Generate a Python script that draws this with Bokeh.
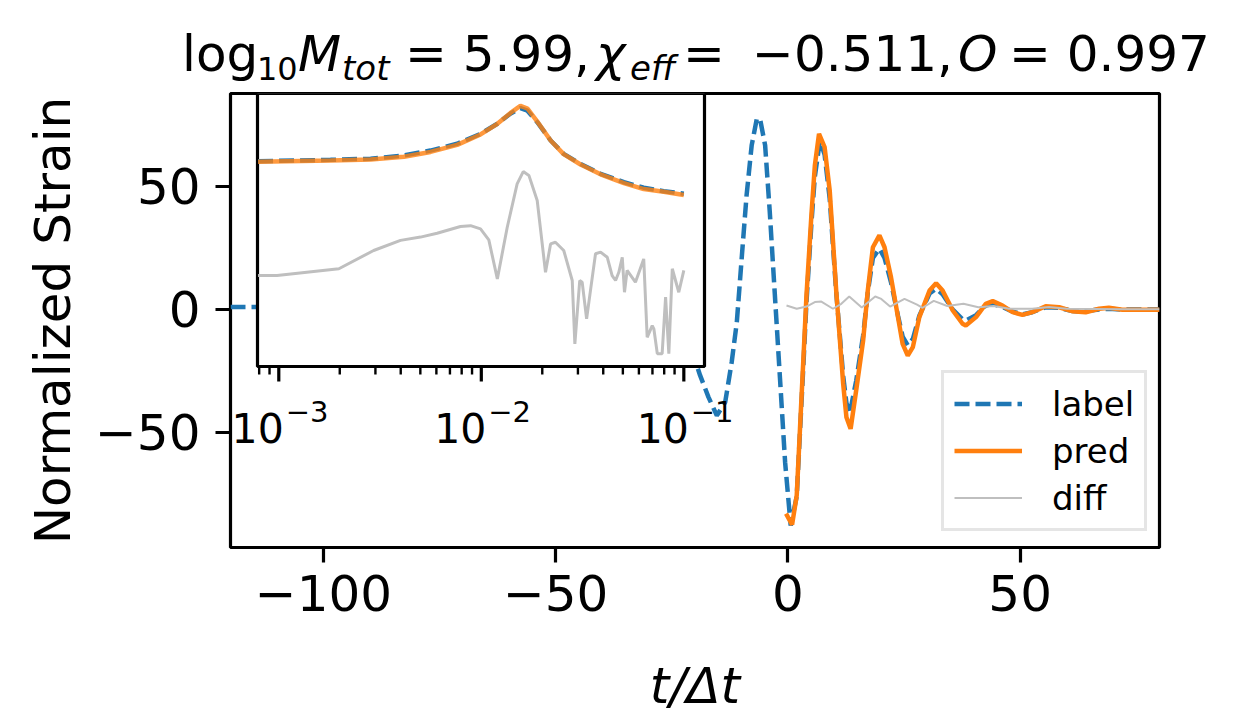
import numpy as np
from bokeh.plotting import figure
from bokeh.layouts import column
from bokeh.models import (Range1d, LogScale, FixedTicker, Legend, LegendItem,
                          CustomJSTickFormatter, Div)
from bokeh.core.properties import value
from bokeh.embed import file_html
from bokeh.resources import INLINE

# ---------------- data: main panel ----------------
label_t = [-120, -113, -70, -40, -26, -21.5, -18.9, -17.1, -15.3, -13.5, -12.1, -11.0,
           -9.9, -8.9, -7.8, -6.7, -6.0, -4.9, -3.9, -2.8, -1.7, -0.6, 0.6, 1.9,
           2.6, 3.3, 4.0, 5.1, 5.8, 6.9, 7.9, 9.0, 9.7, 10.4, 11.2, 11.9,
           12.6, 13.3, 14.7, 16.2, 17.2, 18.3, 19.7, 20.8, 22.2, 23.7, 24.7, 25.8,
           26.9, 28.3, 30.5, 31.9, 33.3, 35.5, 37.6, 38.3, 40.5, 42.6, 44.1, 46.2,
           48.4, 50.5, 52.6, 55.5, 58.4, 61.2, 63.4, 66.0, 69.1, 72.0, 76.0, 80.0]
label_h = [1.0, 1.0, 2.0, 4.0, 9.0, -12.0, -26.8, -35.6, -43.1, -37.7, -21.4, -5.2,
           22.0, 46.3, 66.7, 77.5, 77.5, 66.7, 39.6, 5.7, -28.1, -62.1, -87.8, -76.0,
           -50.0, -24.0, 3.0, 36.0, 54.0, 68.7, 63.0, 45.0, 26.0, 7.0, -11.0, -27.0,
           -38.0, -42.4, -29.0, -10.5, 7.0, 21.0, 24.7, 21.0, 11.0, -2.5, -11.0, -14.6,
           -12.0, -2.5, 6.5, 8.4, 6.2, 0.0, -4.0, -4.5, -2.3, 1.6, 2.3, 1.0,
           -0.9, -2.0, -1.1, 0.9, 0.7, -0.6, -1.0, -0.2, 0.3, 0.0, 0.0, 0.0]

pred_t = [-0.4, 0.9, 1.9, 2.6, 3.3, 4.0, 5.1, 5.8, 6.7, 7.9, 9.0, 9.7,
          10.4, 11.2, 11.9, 12.6, 13.5, 14.7, 16.2, 17.2, 18.3, 19.7, 20.8, 22.2,
          23.7, 24.7, 25.8, 26.9, 28.3, 30.5, 31.9, 33.3, 35.5, 37.6, 38.3, 40.5,
          42.6, 44.1, 46.2, 48.4, 50.5, 52.6, 55.5, 58.4, 61.2, 64.1, 67.0, 69.1,
          72.0, 75.5, 80.0]
pred_h = [-83.0, -87.5, -75.6, -48.5, -21.4, 5.7, 39.6, 58.5, 71.4, 66.0, 48.4, 28.0,
          7.7, -12.6, -30.2, -43.8, -48.5, -32.9, -12.6, 7.7, 25.3, 30.1, 25.3, 13.1,
          -3.1, -14.0, -18.7, -15.3, -3.1, 7.7, 10.7, 7.7, -0.4, -5.8, -6.5, -3.1,
          2.3, 3.4, 1.6, -1.1, -2.2, -1.1, 1.3, 0.9, -0.7, -1.1, 0.3, 0.7,
          -0.1, -0.1, -0.1]

diff_t = [-0.3, 1.9, 4.0, 5.8, 7.2, 9.7, 11.5, 13.2, 15.9, 18.8, 20.1, 22.0,
          25.1, 27.8, 29.0, 31.4, 34.3, 37.8, 41.0, 44.3, 47.6, 52.6, 56.2, 60.0,
          66.0, 72.0, 80.0]
diff_h = [1.6, 0.3, 1.2, 3.0, 3.2, 0.3, 2.3, 5.3, 0.8, 5.3, 4.3, 1.2,
          4.3, 2.0, 0.7, 3.5, 1.4, 2.3, 0.9, 1.4, 0.3, 0.3, 1.0, 0.3,
          0.2, 0.1, 0.1]

x_ticks = [-100, -50, 0, 50]
y_ticks = [-50, 0, 50]

# ---------------- data: inset (log x, arbitrary y units) ----------------
inset_f = [7.9e-4, 1.80e-3, 2.84e-3, 4.15e-3, 5.61e-3, 7.60e-3, 9.91e-3, 1.20e-2,
           1.39e-2, 1.56e-2, 1.69e-2, 1.89e-2, 2.20e-2, 2.55e-2, 3.09e-2, 3.88e-2,
           5.06e-2, 6.34e-2, 7.96e-2, 1.00e-1]
inset_label = [0.752, 0.757, 0.761, 0.773, 0.791, 0.816, 0.852, 0.889, 0.926, 0.946,
               0.937, 0.895, 0.828, 0.779, 0.742, 0.706, 0.675, 0.655, 0.642, 0.633]
inset_pred = [0.750, 0.755, 0.758, 0.768, 0.786, 0.812, 0.850, 0.889, 0.928, 0.955,
              0.945, 0.897, 0.828, 0.778, 0.740, 0.704, 0.672, 0.650, 0.640, 0.628]

inset_diff_f = [7.9e-4, 9.8e-4, 1.98e-3, 2.94e-3, 3.99e-3, 5.01e-3, 6.05e-3, 7.89e-3,
                8.85e-3, 9.91e-3, 1.089e-2, 1.200e-2, 1.343e-2, 1.503e-2, 1.611e-2,
                1.718e-2, 1.888e-2, 2.075e-2, 2.198e-2, 2.323e-2, 2.553e-2, 2.812e-2,
                2.897e-2, 3.062e-2, 3.148e-2, 3.311e-2, 3.459e-2, 3.664e-2, 3.882e-2,
                4.188e-2, 4.426e-2, 4.603e-2, 4.775e-2, 4.966e-2, 5.093e-2, 5.248e-2,
                5.768e-2, 6.339e-2, 6.592e-2, 6.982e-2, 7.112e-2, 7.396e-2, 7.816e-2,
                8.128e-2, 8.433e-2, 8.770e-2, 9.441e-2, 1.000e-1]
inset_diff = [0.333, 0.333, 0.358, 0.425, 0.462, 0.474, 0.488, 0.513, 0.516, 0.504,
              0.464, 0.321, 0.510, 0.669, 0.714, 0.700, 0.608, 0.345, 0.449, 0.455,
              0.425, 0.315, 0.083, 0.315, 0.309, 0.175, 0.278, 0.413, 0.419, 0.400,
              0.333, 0.315, 0.345, 0.400, 0.272, 0.352, 0.309, 0.394, 0.107, 0.150,
              0.138, 0.047, 0.047, 0.254, 0.047, 0.358, 0.272, 0.352]

inset_major = [1e-3, 1e-2, 1e-1]
inset_major_base = ["10", "10", "10"]
inset_major_exp = ["\u22123", "\u22122", "\u22121"]
inset_minor = [8e-4, 9e-4, 2e-3, 3e-3, 4e-3, 5e-3, 6e-3, 7e-3, 8e-3, 9e-3,
               2e-2, 3e-2, 4e-2, 5e-2, 6e-2, 7e-2, 8e-2, 9e-2]
inset_xlim = (7.85e-4, 0.1265)
inset_ylim = (0.0, 1.0)

# title text pieces: (text, size px, style, subscript)
title_pieces = [
    ("log", 50, "normal", False),
    ("10", 32, "normal", True),
    ("M", 50, "italic", False),
    ("tot", 34, "italic", True),
    ("= 5.99,", 50, "normal", False),
    ("\u03c7", 50, "italic", False),
    ("eff", 34, "italic", True),
    ("=", 50, "normal", False),
    ("\u22120.511,", 50, "normal", False),
    ("O", 50, "italic", False),
    ("= 0.997", 50, "normal", False),
]
title_x = [182, 257, 298, 342, 405, 596, 630, 683, 752, 958, 1009]   # left edges, px

# ---------------- layout ----------------
FONT = "DejaVu Sans"
BLUE, ORANGE, GREY = "#1f77b4", "#ff7f0e", "#bfbfbf"
W = 1232
TH = 91                      # height of the title strip
H = 626                      # height of the main figure
FL, FR, FT, FB = 230, 1159, 2, 456   # frame edges inside the main figure (px)
fw, fh = FR - FL, FB - FT

# --- title strip (HTML text with sub/italic pieces) ---
BASE, SUB = 71, 80
spans = []
for (txt, size, style, sub), x in zip(title_pieces, title_x):
    top = (SUB if sub else BASE) - 0.846 * size
    spans.append(
        f'<span style="position:absolute;left:{x}px;top:{top:.1f}px;font-size:{size}px;'
        f'line-height:{size}px;font-style:{style};white-space:pre;">{txt}</span>')
title_html = (f'<div style="position:relative;width:{W}px;height:{TH}px;'
              f'font-family:\'{FONT}\';color:black;">' + "".join(spans) + '</div>')
title_div = Div(text=title_html, width=W, height=TH, margin=0)

# --- main plot ---
p = figure(width=W, height=H, x_range=Range1d(-120, 80), y_range=Range1d(-96.75, 87.8),
           output_backend="svg", toolbar_location=None,
           min_border_left=FL, min_border_right=W - FR,
           min_border_top=FT, min_border_bottom=H - FB)
p.background_fill_color = "white"
p.border_fill_color = "white"
p.grid.visible = False
p.outline_line_color = "black"
p.outline_line_width = 3.2

# inset box inside the frame (px from frame left / top)
ix0, ix1 = 27, 474
iy0, iy1 = 0, 273
l0, l1 = np.log10(inset_xlim[0]), np.log10(inset_xlim[1])
per_px = (l1 - l0) / (ix1 - ix0)
p.extra_x_ranges = {"inset": Range1d(10 ** (l0 - ix0 * per_px), 10 ** (l1 + (fw - ix1) * per_px))}
p.extra_x_scales = {"inset": LogScale()}
per_py = (inset_ylim[1] - inset_ylim[0]) / (iy1 - iy0)
p.extra_y_ranges = {"iy": Range1d(inset_ylim[0] - (fh - iy1) * per_py, inset_ylim[1] + iy0 * per_py)}

# main curves
r_label = p.line(label_t, label_h, line_color=BLUE, line_width=4.5, line_dash="15 6")
r_pred = p.line(pred_t, pred_h, line_color=ORANGE, line_width=4.5)
r_diff = p.line(diff_t, diff_h, line_color=GREY, line_width=2)

# inset
ikw = dict(x_range_name="inset", y_range_name="iy")
p.quad(left=[inset_xlim[0]], right=[inset_xlim[1]], bottom=[inset_ylim[0]], top=[inset_ylim[1]],
       fill_color="white", line_color="black", line_width=3.2, **ikw)
p.line(inset_f, inset_label, line_color=BLUE, line_width=4.5, line_dash="15 6", **ikw)
p.line(inset_f, inset_pred, line_color=ORANGE, line_width=4.5, line_alpha=0.8, **ikw)
p.line(inset_diff_f, inset_diff, line_color=GREY, line_width=3, **ikw)

y0 = inset_ylim[0]
p.segment(x0=inset_major, x1=inset_major, y0=[y0] * 3, y1=[y0 - 15 * per_py] * 3,
          line_color="black", line_width=3.2, **ikw)
p.segment(x0=inset_minor, x1=inset_minor, y0=[y0] * len(inset_minor),
          y1=[y0 - 8 * per_py] * len(inset_minor), line_color="black", line_width=2.4, **ikw)
p.text(x=inset_major, y=[y0] * 3, text=inset_major_base, text_align="right",
       text_baseline="alphabetic", x_offset=5, y_offset=61, text_font=value(FONT),
       text_font_size="41px", text_color="black", **ikw)
p.text(x=inset_major, y=[y0] * 3, text=inset_major_exp, text_align="left",
       text_baseline="alphabetic", x_offset=7, y_offset=45, text_font=value(FONT),
       text_font_size="29px", text_color="black", **ikw)

# axes
fmt = CustomJSTickFormatter(code="return String(tick).replace('-', '\\u2212')")
for ax in (p.xaxis[0], p.yaxis[0]):
    ax.axis_line_color = None
    ax.major_tick_line_width = 3.2
    ax.major_tick_out = 15
    ax.major_tick_in = 0
    ax.minor_tick_line_color = None
    ax.major_label_text_font = FONT
    ax.major_label_text_font_size = "50px"
    ax.major_label_text_color = "black"
    ax.axis_label_text_font = FONT
    ax.axis_label_text_font_size = "50px"
    ax.axis_label_text_color = "black"
    ax.formatter = fmt
p.xaxis.major_label_standoff = 12
p.xaxis.axis_label_standoff = 43
p.yaxis.major_label_standoff = 15
p.yaxis.axis_label_standoff = 10
p.xaxis.ticker = FixedTicker(ticks=x_ticks)
p.yaxis.ticker = FixedTicker(ticks=y_ticks)
p.xaxis.axis_label = "t/\u0394t"
p.xaxis.axis_label_text_font_style = "italic"
p.yaxis.axis_label = "Normalized Strain"
p.yaxis.axis_label_text_font_style = "normal"

# legend
legend = Legend(items=[LegendItem(label="label", renderers=[r_label]),
                       LegendItem(label="pred", renderers=[r_pred]),
                       LegendItem(label="diff", renderers=[r_diff])],
                location=(711, 16), margin=0, padding=10, spacing=6,
                glyph_width=68, glyph_height=41, label_height=41, label_standoff=30,
                label_text_font=FONT, label_text_font_size="34px", label_text_color="black",
                border_line_color="#cccccc", border_line_width=3,
                background_fill_color="white", background_fill_alpha=0.8)
p.add_layout(legend)

layout = column(title_div, p, spacing=0)
open("out.html", "w").write(file_html(layout, INLINE))
